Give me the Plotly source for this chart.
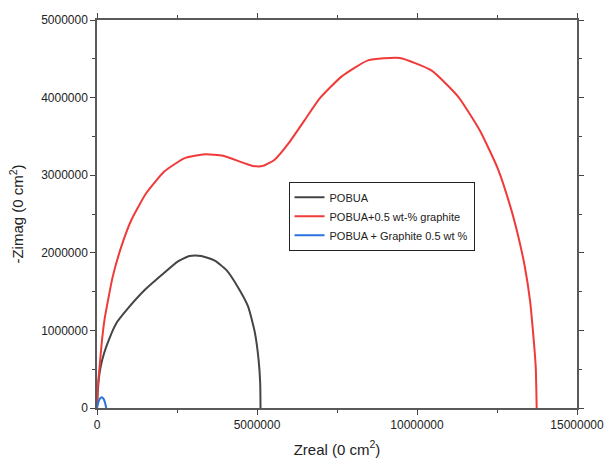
import plotly.graph_objects as go

# POBUA (black)
pobua_x = [0, 0.03e6, 0.08e6, 0.17e6, 0.29e6, 0.60e6, 0.96e6, 1.49e6, 2.01e6, 2.53e6, 2.89e6, 3.26e6,
           3.68e6, 4.04e6, 4.40e6, 4.72e6, 4.93e6, 5.05e6, 5.10e6, 5.11e6]
pobua_y = [0, 0.25e6, 0.45e6, 0.63e6, 0.79e6, 1.09e6, 1.28e6, 1.52e6, 1.71e6, 1.89e6, 1.96e6, 1.96e6,
           1.90e6, 1.78e6, 1.56e6, 1.31e6, 0.98e6, 0.62e6, 0.32e6, 0.0]

# POBUA+0.5 wt-% graphite (red)
red_x = [0, 0.02e6, 0.078e6, 0.15e6, 0.235e6, 0.49e6, 0.76e6, 1.07e6, 1.54e6, 2.11e6, 2.74e6, 3.37e6,
         3.94e6, 4.87e6, 5.19e6, 5.55e6, 6.02e6, 6.49e6, 6.96e6, 7.64e6, 8.47e6, 9.46e6,
         10.45e6, 11.29e6, 11.96e6, 12.54e6, 12.95e6, 13.2e6, 13.37e6, 13.53e6, 13.63e6,
         13.71e6, 13.74e6]
red_y = [0, 0.25e6, 0.52e6, 0.85e6, 1.14e6, 1.69e6, 2.08e6, 2.42e6, 2.77e6, 3.05e6, 3.22e6, 3.27e6,
         3.25e6, 3.12e6, 3.12e6, 3.20e6, 3.43e6, 3.71e6, 3.99e6, 4.27e6, 4.48e6, 4.51e6,
         4.35e6, 4.01e6, 3.58e6, 3.07e6, 2.55e6, 2.15e6, 1.82e6, 1.39e6, 0.96e6,
         0.53e6, 0.0]

# POBUA + Graphite 0.5 wt % (blue)
blue_x = [0, 0.04e6, 0.09e6, 0.15e6, 0.20e6, 0.25e6, 0.29e6]
blue_y = [0, 0.07e6, 0.12e6, 0.14e6, 0.12e6, 0.07e6, 0.0]

names = ["POBUA", "POBUA+0.5 wt-% graphite", "POBUA + Graphite 0.5 wt %"]
colors = ["#454545", "#f03a3a", "#2a72de"]

fig = go.Figure()
for xs, ys, n, c in zip([pobua_x, red_x, blue_x], [pobua_y, red_y, blue_y], names, colors):
    fig.add_trace(go.Scatter(x=xs, y=ys, mode="lines", name=n,
                             line=dict(color=c, width=2, shape="spline", smoothing=0.5)))

axis_common = dict(
    showline=True, linecolor="#5a5a5a", linewidth=1.5, mirror="allticks",
    ticks="outside", ticklen=5, tickwidth=1, tickcolor="#444",
    showgrid=False, zeroline=False, tickformat="d", automargin=False,
    tickfont=dict(family="Arial, Liberation Sans", size=12, color="#222"),
)

fig.update_xaxes(range=[0, 15e6], dtick=5e6, tick0=0,
                 minor=dict(ticks="outside", ticklen=3, dtick=2.5e6, tickcolor="#444", showgrid=False),
                 title=dict(text="Zreal (0 cm<sup>2</sup>)", standoff=13,
                            font=dict(family="Arial, Liberation Sans", size=15, color="#222")),
                 **axis_common)
fig.update_yaxes(range=[0, 5e6], dtick=1e6, tick0=0,
                 minor=dict(ticks="outside", ticklen=3, dtick=0.5e6, tickcolor="#444", showgrid=False),
                 title=dict(text="-Zimag (0 cm<sup>2</sup>)", standoff=14,
                            font=dict(family="Arial, Liberation Sans", size=15, color="#222")),
                 **axis_common)

fig.update_layout(
    width=607, height=465,
    margin=dict(l=97, r=30, t=20, b=57),
    plot_bgcolor="white", paper_bgcolor="white",
    showlegend=True,
    legend=dict(x=0.399, y=0.494, xanchor="left", yanchor="middle",
                bordercolor="#222", borderwidth=1, bgcolor="white",
                font=dict(family="Arial, Liberation Sans", size=11, color="#222"),
                tracegroupgap=0, itemwidth=30),
)

fig.write_html("out.html", config={"displayModeBar": False},
               post_script="document.body.style.margin='0';document.body.style.overflow='hidden';")
